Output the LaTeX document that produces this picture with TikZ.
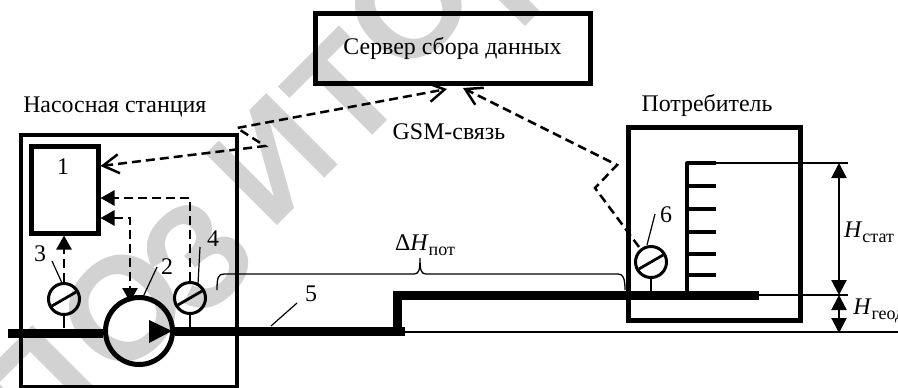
\documentclass[tikz,border=0pt]{standalone}
\usepackage{fontspec}
\setmainfont{Liberation Serif}
\newfontfamily\stampfont{Liberation Sans}
\usepackage{xcolor}
\usetikzlibrary{arrows.meta,positioning,shapes,calc}
\definecolor{ink}{HTML}{000000}
\definecolor{stamp}{HTML}{D2D2D2}
\def\px{0.75pt}
\newcommand{\labelsize}{\fontsize{17.9pt}{19pt}\selectfont}
\newcommand{\subsize}{\fontsize{13.5pt}{15pt}\selectfont}
\newcommand{\headsub}[1]{\textit{H}\raisebox{-0.22em}{\subsize #1}}
\tikzset{
  plainbox/.style={draw=ink,line width=5*\px,inner sep=0pt},
  gauge/.style={circle,draw=ink,line width=3*\px,minimum size=31*\px,inner sep=0pt},
  pumpbody/.style={circle,draw=ink,line width=5*\px,minimum size=67*\px,inner sep=0pt},
  caption/.style={font=\labelsize,inner sep=0pt},
  stampletter/.style={font=\stampfont\bfseries\fontsize{110pt}{110pt}\selectfont,
                      text=stamp,rotate=45,inner sep=0pt},
  leader/.style={draw=ink,line width=1.2*\px},
  thinline/.style={draw=ink,line width=2*\px},
  pipe/.style={draw=ink,line width=9*\px},
  tickline/.style={draw=ink,line width=3.2*\px},
  signal/.style={draw=ink,line width=2.5*\px,dash pattern=on 9*\px off 5*\px,
                 -{Triangle[length=14*\px,width=15*\px]}},
  signalboth/.style={signal,{Triangle[length=14*\px,width=15*\px]}-{Triangle[length=14*\px,width=15*\px]}},
  radiolink/.style={draw=ink,line width=2.5*\px,dash pattern=on 9*\px off 5*\px,
                 -{Straight Barb[length=16*\px,width=19*\px]}},
  radioboth/.style={radiolink,{Straight Barb[length=16*\px,width=19*\px]}-{Straight Barb[length=16*\px,width=19*\px]}},
  dimarrow/.style={draw=ink,line width=2.2*\px,
                 {Triangle[length=15*\px,width=15*\px]}-{Triangle[length=15*\px,width=15*\px]}}
}
\begin{document}
\begin{tikzpicture}[x=\px,y=-\px]
    \path[use as bounding box] (0,0) rectangle (898,387);
    \foreach \ch/\xx/\yy in {П/38/392, О/123/308, З/197/256, И/272/160, Т/344/92, О/409/5, Р/517/-37}{
      \node[stampletter] (stamp\xx) at (\xx,\yy) {\ch};
    }
    % boxes
    \node[plainbox,minimum width=275*\px,minimum height=70*\px,font=\labelsize]
      (server) at (452.5,48) {Сервер сбора данных};
    \node[plainbox,line width=4.5*\px,minimum width=216*\px,minimum height=252*\px] (station) at (129,261) {};
    \node[plainbox,minimum width=172*\px,minimum height=193*\px] (consumer) at (714,223.5) {};
    \node[plainbox,minimum width=67*\px,minimum height=87*\px] (ctrl) at (64.5,189.5) {};
    \node[caption] (lab1) at (63,167) {1};
    \node[caption,anchor=west] (labstation) at (23,107) {Насосная станция};
    \node[caption] (labconsumer) at (707,105) {Потребитель};
    \node[caption] (labgsm) at (449,132) {GSM-связь};
    % pipeline
    \coordinate (pipeA) at (8,333);
    \coordinate (pipeB) at (405,331);
    \coordinate (riseA) at (397,331);
    \coordinate (riseB) at (397,295);
    \coordinate (pipeC) at (759,295);
    \coordinate (datum) at (898,332);
    \node[pumpbody] (pump) at (139,331) {};
    \node[gauge] (g3) at (64,299) {};
    \node[gauge] (g4) at (190,298) {};
    \node[gauge] (g6) at (651,262) {};
    \draw[pipe] (pipeA) -- (pump.west |- pipeA);
    \draw[pipe] (pump.east) -- (pipeB);
    \draw[pipe] (riseA) -- (riseB) -- (pipeC);
    \draw[thinline] (405,332) -- (datum);
    \fill[ink] (149,320) -- (172,331) -- (149,343) -- cycle;
    % gauges
    \foreach \g/\yy in {g3/328, g4/328, g6/292}{
      \draw[thinline,line width=2.8*\px] (\g.south) -- (\g.south |- 0,\yy);
      \draw[thinline,line width=2.8*\px,shorten <=3*\px,shorten >=3*\px] (\g.210) -- (\g.30);
    }
    % level scale
    \coordinate (scaleTop) at (687,163);
    \coordinate (scaleEnd) at (716,163);
    \draw[tickline,line join=round] (scaleEnd) -- (scaleTop) -- (scaleTop |- pipeC);
    \foreach \yy in {186,209,232,254,275}{
      \draw[tickline] (687,\yy) -- (716,\yy);
    }
    \coordinate (dimTop) at (848,163);
    \coordinate (dimMid) at (848,295);
    \draw[thinline] (scaleEnd) -- (dimTop);
    \draw[thinline] (pipeC) -- (dimMid);
    \draw[dimarrow] (839,163) -- (839,295);
    \draw[dimarrow] (839,295) -- (839,333);
    \node[caption] (labstat) at (869,232) {\headsub{стат}};
    \node[caption,anchor=west] (labgeod) at (853,311) {\headsub{геод}};
    % signals
    \draw[signal] (g3) -- (ctrl.south -| g3);
    \coordinate (g4Turn) at (190,198);
    \draw[signal] (g4.north) -- (g4Turn) -- (ctrl.east |- g4Turn);
    \coordinate (pumpTurn) at (130,218);
    \draw[signalboth] (ctrl.east |- pumpTurn) -- (pumpTurn) -- (pumpTurn |- 0,302);
    \coordinate (kinkA) at (265,146);
    \coordinate (kinkB) at (237,128);
    \coordinate (kinkC) at (617,165);
    \coordinate (kinkD) at (595,188);
    \coordinate (g6Top) at (639,247);
    \draw[radioboth] (ctrl.east |- 0,166) -- (kinkA) -- (kinkB) -- (447,89);
    \draw[radiolink] (g6Top) -- (kinkD) -- (kinkC) -- (463,88);
    % brace
    \draw[leader,line width=1.3*\px] (217,290) .. controls (217,278) and (218,274) .. (224,274)
      -- (414,274) .. controls (419,274) and (420,270) .. (420,258)
      .. controls (420,270) and (421,274) .. (426,274) -- (618,274)
      .. controls (623,274) and (625,278) .. (625,290);
    \node[caption] (labloss) at (425,245) {Δ\headsub{пот}};
    % item numbers
    \node[caption] (lab3) at (40,254) {3};
    \node[caption] (lab2) at (167,267) {2};
    \node[caption] (lab4) at (213,239) {4};
    \node[caption] (lab5) at (311,294) {5};
    \node[caption] (lab6) at (666,215) {6};
    \draw[leader] (52,261) -- (62,283);
    \draw[leader] (157,267) -- (143,297);
    \draw[leader] (200,247) -- (198,284);
    \draw[leader] (297,303) -- (271,326);
    \draw[leader] (655,214) -- (647,245);
\end{tikzpicture}
\end{document}
